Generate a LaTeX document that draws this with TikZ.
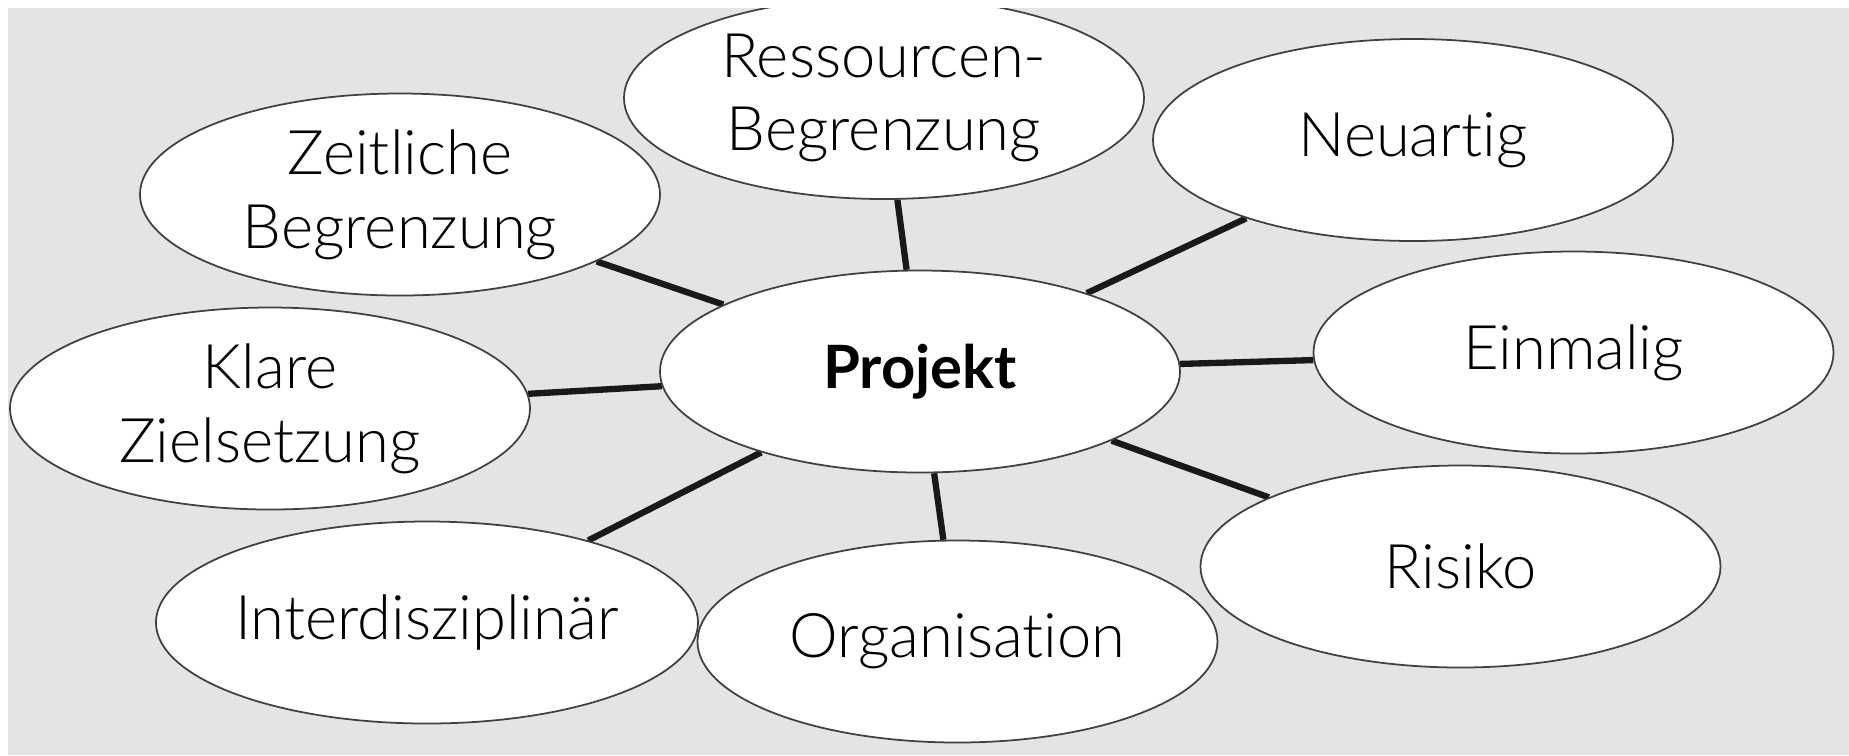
\documentclass[tikz,border=0pt]{standalone}
\usepackage{fontspec}
\setmainfont{Lato Light}[BoldFont={Lato Bold}, Ligatures=NoCommon]
\usetikzlibrary{shapes.geometric,backgrounds}
\definecolor{bggray}{RGB}{228,228,228}
\tikzset{
	merkmal/.style={ellipse, draw=black!75, line width=0.5pt, fill=white,
		minimum width=5.2cm, minimum height=2.02cm, inner sep=0pt,
		align=center, font=\fontsize{17.5}{21}\selectfont},
	verbindung/.style={line width=1.8pt, black!90}
}

\begin{document}
\begin{tikzpicture}
	\useasboundingbox (0,0) rectangle (18.49,-7.55);
	\clip (0.08,-0.08) rectangle (18.49,-7.55);
	% center
	\node[merkmal, font=\fontsize{17}{21}\selectfont\bfseries] (projekt) at (9.20,-3.715) {Projekt};
	% features
	\node[merkmal] (ressourcen) at (8.84,-0.98) {Ressourcen-\\Begrenzung};
	\node[merkmal] (zeitlich) at (4.00,-1.945) {Zeitliche\\Begrenzung};
	\node[merkmal] (neuartig) at (14.13,-1.40) {Neuartig};
	\node[merkmal] (klar) at (2.70,-4.085) {Klare\\Zielsetzung};
	\node[merkmal] (einmalig) at (15.735,-3.525) {Einmalig};
	\node[merkmal] (interdisziplinaer) at (4.27,-6.225) {Interdisziplinär};
	\node[merkmal] (organisation) at (9.575,-6.415) {Organisation};
	\node[merkmal] (risiko) at (14.605,-5.665) {Risiko};
	% background and connections
	\begin{scope}[on background layer]
		\fill[bggray] (0.08,-0.08) rectangle (18.49,-7.55);
		\foreach \n in {ressourcen,zeitlich,neuartig,klar,einmalig,interdisziplinaer,organisation,risiko}
			\draw[verbindung] (projekt) -- (\n);
	\end{scope}
\end{tikzpicture}
\end{document}
